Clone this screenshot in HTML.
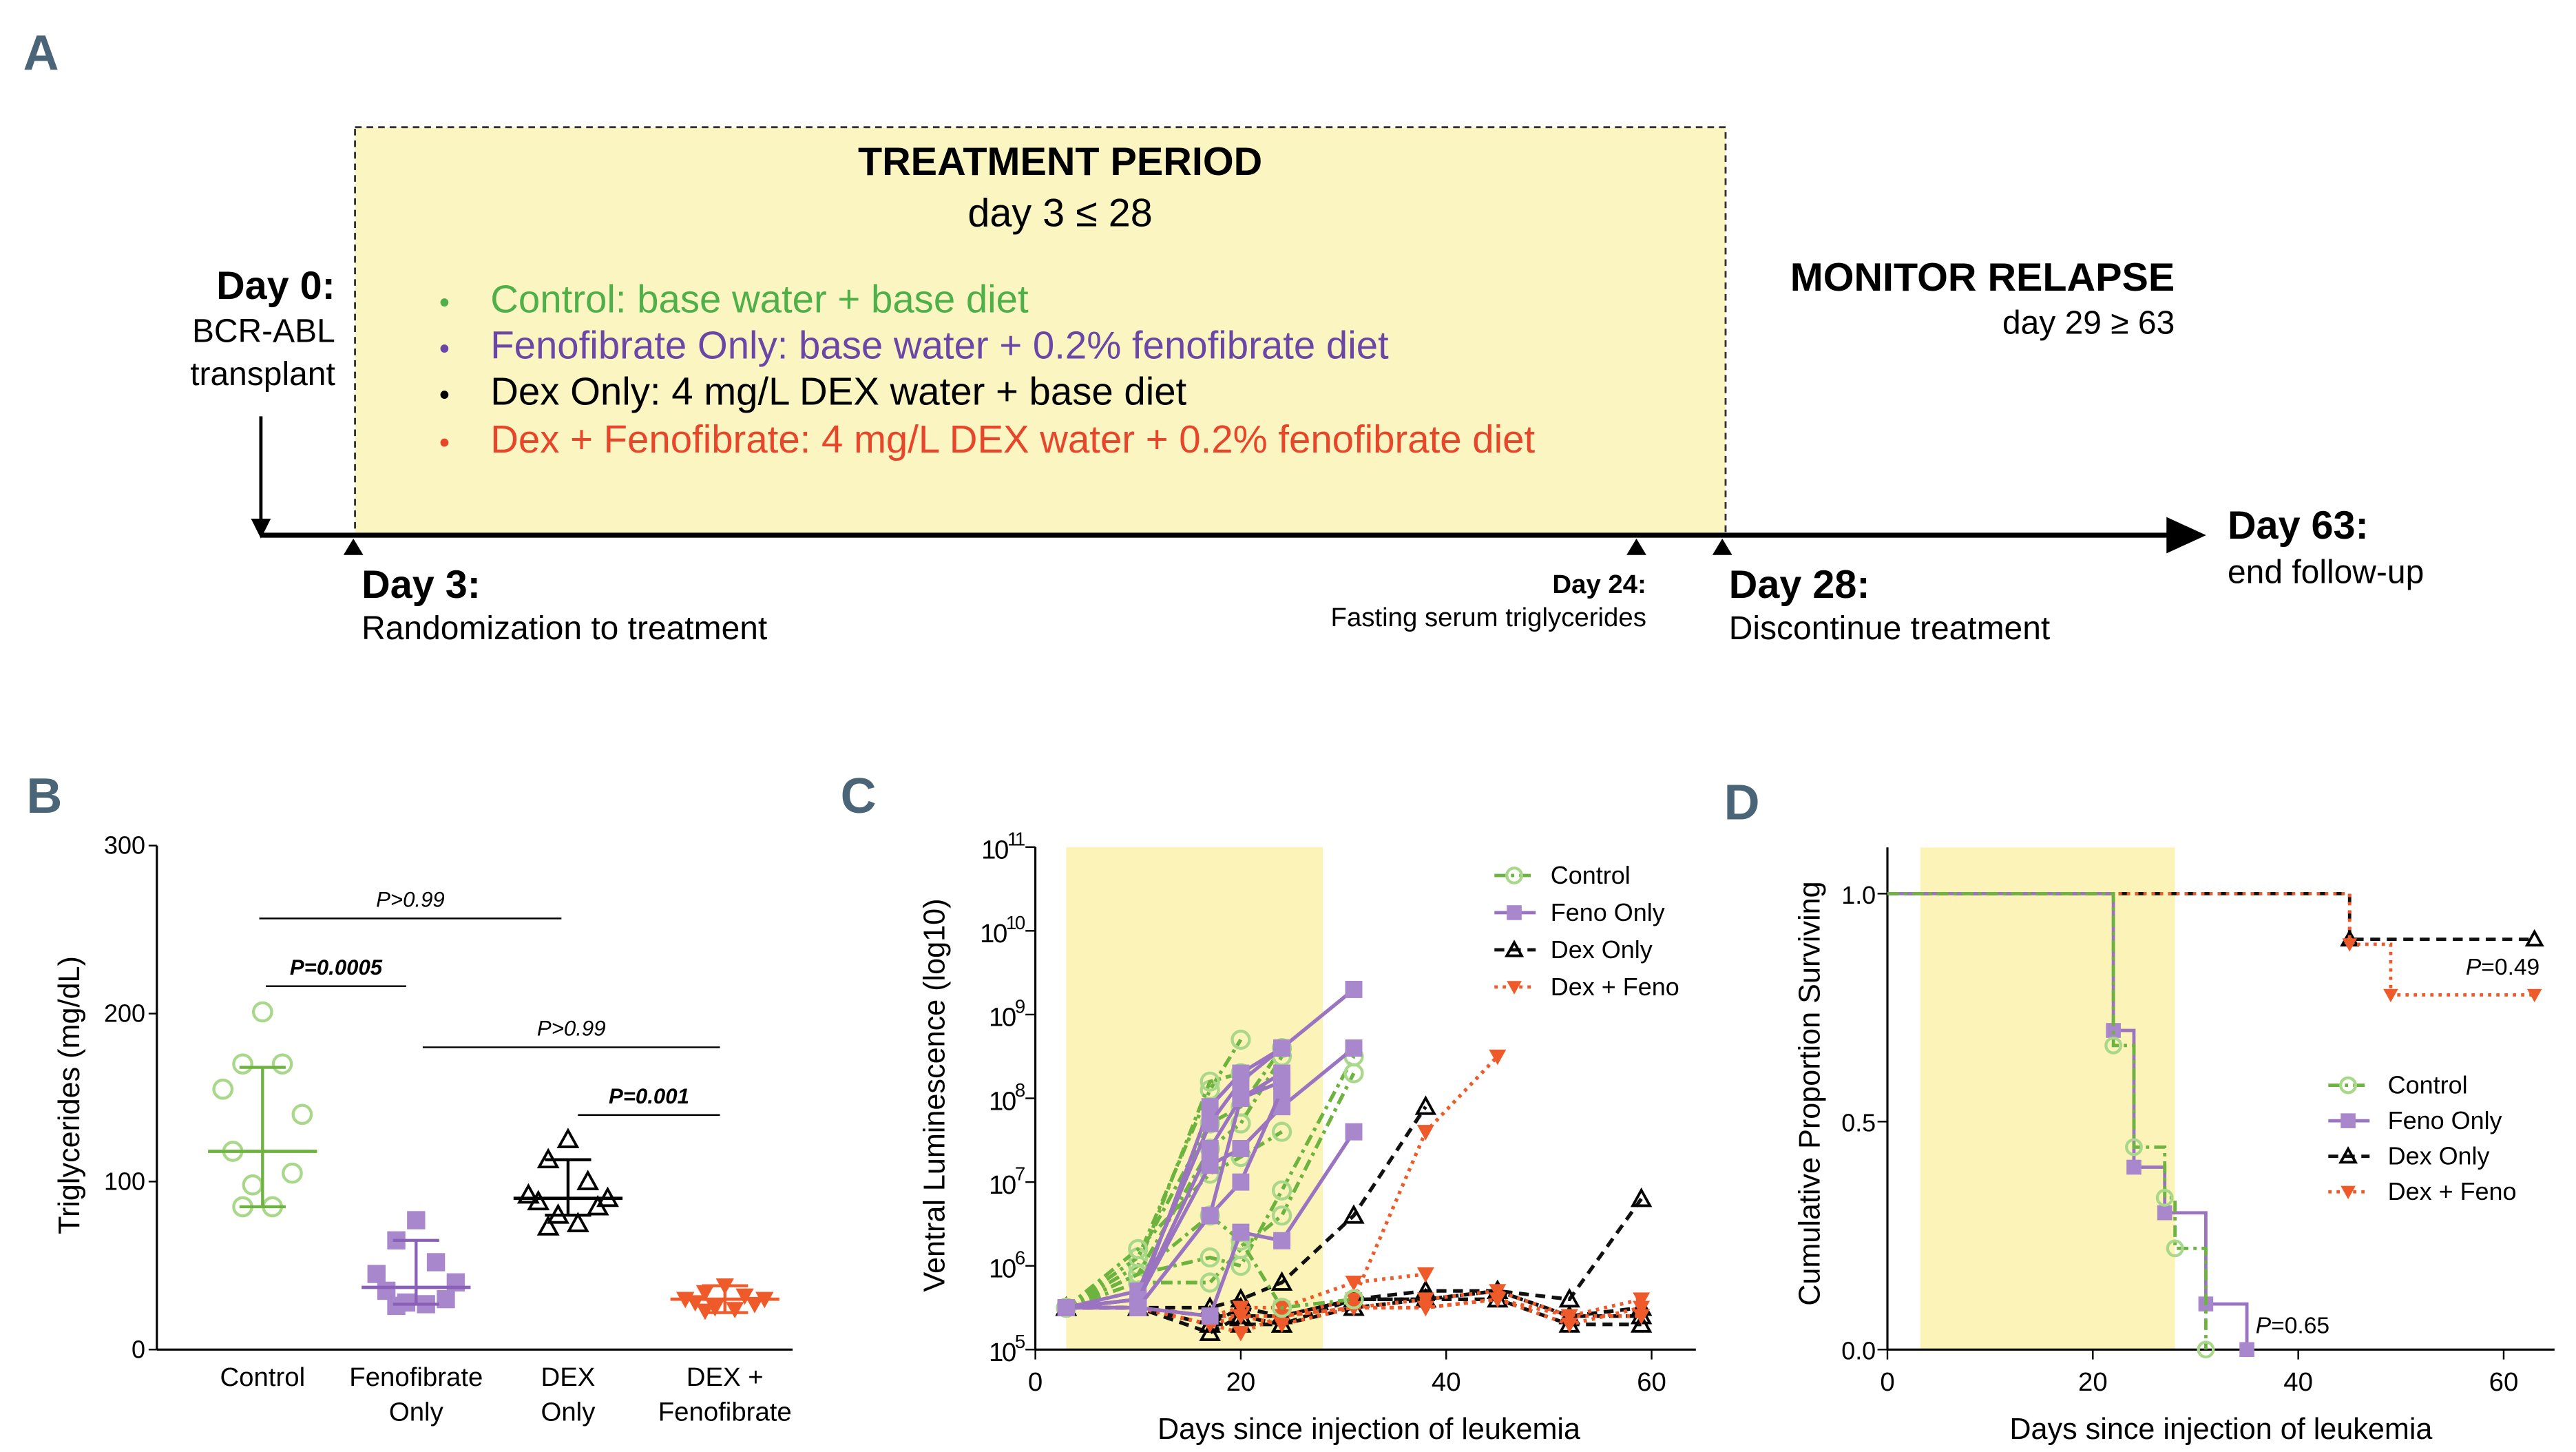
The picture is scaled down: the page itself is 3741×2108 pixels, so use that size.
<!DOCTYPE html>
<html><head><meta charset="utf-8">
<style>
html,body{margin:0;padding:0;background:#fff}
svg{display:block;font-family:"Liberation Sans",sans-serif}
</style></head>
<body>
<svg id="fig" width="3741" height="2108" viewBox="0 0 1560 879" xmlns="http://www.w3.org/2000/svg">
<g>
<text x="14" y="42" font-size="30" font-weight="bold" fill="#4a6478">A</text>
<rect x="215" y="77" width="830" height="247" fill="#fbf5c2" stroke="#333" stroke-dasharray="4,3" stroke-width="1.2"/>
<text x="642" y="106" font-size="24" font-weight="bold" text-anchor="middle">TREATMENT PERIOD</text>
<text x="642" y="137" font-size="24" text-anchor="middle">day 3 ≤ 28</text>
<g font-size="23.5">
<text x="266" y="189" fill="#4fb04a" font-size="18">•</text><text x="297" y="189" fill="#4fb04a">Control: base water + base diet</text>
<text x="266" y="217" fill="#6a46a6" font-size="18">•</text><text x="297" y="217" fill="#6a46a6">Fenofibrate Only: base water + 0.2% fenofibrate diet</text>
<text x="266" y="245" fill="#000" font-size="18">•</text><text x="297" y="245" fill="#000">Dex Only: 4 mg/L DEX water + base diet</text>
<text x="266" y="274" fill="#e8462a" font-size="18">•</text><text x="297" y="274" fill="#e8462a">Dex + Fenofibrate: 4 mg/L DEX water + 0.2% fenofibrate diet</text>
</g>
<text x="203" y="181" font-size="24" font-weight="bold" text-anchor="end">Day 0:</text>
<text x="203" y="207" font-size="20" text-anchor="end">BCR-ABL</text>
<text x="203" y="233" font-size="20" text-anchor="end">transplant</text>
<line x1="158" y1="252" x2="158" y2="316" stroke="#000" stroke-width="2"/>
<polygon points="152,314 164,314 158,326" fill="#000"/>
<line x1="158" y1="324" x2="1318" y2="324" stroke="#000" stroke-width="3"/>
<polygon points="1312,313 1336,324 1312,335" fill="#000"/>
<polygon points="208,336 220,336 214,326" fill="#000"/>
<polygon points="985,336 997,336 991,326" fill="#000"/>
<polygon points="1037,336 1049,336 1043,326" fill="#000"/>
<text x="219" y="362" font-size="24" font-weight="bold">Day 3:</text>
<text x="219" y="387" font-size="20">Randomization to treatment</text>
<text x="997" y="359" font-size="16" font-weight="bold" text-anchor="end">Day 24:</text>
<text x="997" y="379" font-size="16" text-anchor="end">Fasting serum triglycerides</text>
<text x="1047" y="362" font-size="24" font-weight="bold">Day 28:</text>
<text x="1047" y="387" font-size="20">Discontinue treatment</text>
<text x="1317" y="176" font-size="24" font-weight="bold" text-anchor="end">MONITOR RELAPSE</text>
<text x="1317" y="202" font-size="20" text-anchor="end">day 29 ≥ 63</text>
<text x="1349" y="326" font-size="24" font-weight="bold">Day 63:</text>
<text x="1349" y="353" font-size="20">end follow-up</text>
</g>
<text x="16" y="492" font-size="30" font-weight="bold" fill="#4a6478">B</text>
<text x="509" y="492" font-size="30" font-weight="bold" fill="#4a6478">C</text>
<text x="1044" y="496" font-size="30" font-weight="bold" fill="#4a6478">D</text>
<g id="pb"></g>
<g id="pc"></g>
<g id="pd"></g>
</svg>
<script>
// ---------- Panel B data ----------
const bCategories = ["Control","Fenofibrate Only","DEX Only","DEX + Fenofibrate"];
const bControl = [201,170,170,155,140,118,105,98,85,85];
const bFeno = [77,65,52,45,40,35,30,28,27,26];
const bDex = [125,113,100,92,90,88,85,80,75,73];
const bDexFeno = [38,34,32,30,30,28,27,25,24,23];
const bCenter = [118,37,90,30];
const bLow = [85,27,80,22];
const bHigh = [168,65,113,38];
const bTicks = [0,100,200,300];
// ---------- Panel C data (log10 luminescence) ----------
const cDays = [3,10,17,20,24,31,38,45,52,59];
const cControl = [
 [5.5,6.1,8.1,8.7],[5.5,6.0,8.2,8.3],[5.5,6.1,7.7,7.9,8.6],[5.5,5.9,7.4,7.7,8.5],
 [5.5,6.2,7.1,7.3,7.6],[5.5,5.9,6.1,6.0,6.9,8.5],[5.5,5.8,5.8,6.2,6.6,8.3],[5.5,5.9,6.6,6.3,5.5,5.6]];
const cFeno = [
 [5.5,5.6,7.9,8.3,8.6],[5.5,5.7,7.7,8.2,8.6,9.3],[5.5,5.6,7.4,8.0,8.3],[5.5,5.6,7.2,7.4,7.9,8.6],
 [5.5,5.5,6.6,7.0,8.1],[5.5,5.5,5.4,6.4,6.3,7.6],[5.5,5.5,6.6,8.0,8.2]];
const cDex = [
 [5.5,5.5,5.2,5.4,5.3,5.6,5.6,5.7,5.4,5.4],[5.5,5.5,5.5,5.6,5.8,6.6,7.9],
 [5.5,5.5,5.3,5.5,5.4,5.6,5.7,5.7,5.6,6.8],[5.5,5.5,5.3,5.3,5.3,5.5,5.6,5.6,5.3,5.3],
 [5.5,5.5,5.4,5.4,5.4,5.6,5.6,5.7,5.4,5.5]];
const cDexFeno = [
 [5.5,5.5,5.4,5.4,5.4,5.6,7.6,8.5],[5.5,5.5,5.4,5.5,5.5,5.8,5.9],
 [5.5,5.5,5.3,5.2,5.4,5.5,5.5,5.6,5.4,5.4],[5.5,5.5,5.4,5.4,5.4,5.5,5.6,5.7,5.4,5.6],
 [5.5,5.5,5.3,5.4,5.3,5.5,5.5,5.6,5.3,5.5]];
const cTicks = [5,6,7,8,9,10,11];
const cXTicks = [0,20,40,60];
// ---------- Panel D data (KM) ----------
const dControl = [[0,1],[22,0.667],[24,0.444],[27,0.333],[28,0.222],[31,0]];
const dFeno = [[0,1],[22,0.7],[24,0.4],[27,0.3],[31,0.1],[35,0]];
const dDex = [[0,1],[45,0.9],[63,0.9]];
const dDexFeno = [[0,1],[45,0.889],[49,0.778],[63,0.778]];
const dYTicks = [0,0.5,1.0];
const dXTicks = [0,20,40,60];

const NS="http://www.w3.org/2000/svg";
function mk(p,tag,attrs,txt){const e=document.createElementNS(NS,tag);for(const k in attrs)e.setAttribute(k,attrs[k]);if(txt!==undefined)e.textContent=txt;p.appendChild(e);return e;}
const GREEN="#6db33f",LGREEN="#a9d88a",PURPLE="#9a74c0",BLACK="#111",RED="#ee5a2a";
function marker(p,type,x,y,s){let e;
 if(type==="circle"){e=mk(p,"circle",{cx:x,cy:y,r:s,fill:"none",stroke:LGREEN,"stroke-width":1.8});}
 else if(type==="square"){e=mk(p,"rect",{x:x-s,y:y-s,width:2*s,height:2*s,fill:"#a987cc"});}
 else if(type==="tri"){e=mk(p,"polygon",{points:`${x-s},${y+s*0.8} ${x+s},${y+s*0.8} ${x},${y-s}`,fill:"none",stroke:"#000","stroke-width":1.6});}
 else {e=mk(p,"polygon",{points:`${x-s},${y-s*0.8} ${x+s},${y-s*0.8} ${x},${y+s}`,fill:RED});}
 
 
 return e;}

// ===== Panel B =====
(function(){
const g=document.getElementById("pb");
const X0=95,Y0=817,yS=v=>Y0-v*1.017;
const xs=[159,252,344,439];
const ax=mk(g,"line",{x1:X0,y1:yS(300),x2:X0,y2:Y0,stroke:"#000","stroke-width":1.3});

const xa=mk(g,"line",{x1:X0,y1:Y0,x2:480,y2:Y0,stroke:"#000","stroke-width":1.3});

bTicks.forEach(t=>{mk(g,"line",{x1:X0-5,y1:yS(t),x2:X0,y2:yS(t),stroke:"#000"});
 const tl=mk(g,"text",{x:X0-7,y:yS(t)+5,"font-size":15,"text-anchor":"end"},t);
 });
const yt=mk(g,"text",{x:0,y:0,"font-size":18,"text-anchor":"middle",transform:`translate(48,663) rotate(-90)`},"Triglycerides (mg/dL)");

bCategories.forEach((c,i)=>{const parts=c==="Control"?["Control"]:c==="Fenofibrate Only"?["Fenofibrate","Only"]:c==="DEX Only"?["DEX","Only"]:["DEX +","Fenofibrate"];
 parts.forEach((p,j)=>{const t=mk(g,"text",{x:xs[i],y:839+j*21,"font-size":16,"text-anchor":"middle"},p);
 });});
const series=[[bControl,"circle",GREEN],[bFeno,"square","#8a5fb8"],[bDex,"tri","#000"],[bDexFeno,"down",RED]];
series.forEach(([vals,type,col],i)=>{
 const off=[0,-1,1,-2,2,-1.5,1.5,-0.5,0.5,-1,1];
 vals.forEach((v,k)=>{marker(g,type,xs[i]+off[k%off.length]*12,yS(v),5.5);});
 mk(g,"line",{x1:xs[i],y1:yS(bLow[i]),x2:xs[i],y2:yS(bHigh[i]),stroke:col,"stroke-width":1.8});
 mk(g,"line",{x1:xs[i]-14,y1:yS(bLow[i]),x2:xs[i]+14,y2:yS(bLow[i]),stroke:col,"stroke-width":1.8});
 mk(g,"line",{x1:xs[i]-14,y1:yS(bHigh[i]),x2:xs[i]+14,y2:yS(bHigh[i]),stroke:col,"stroke-width":1.8});
 const m=mk(g,"line",{x1:xs[i]-33,y1:yS(bCenter[i]),x2:xs[i]+33,y2:yS(bCenter[i]),stroke:col,"stroke-width":2});
 });
const sig=[[157,340,556,"P>0.99",false],[161,246,597,"P=0.0005",true],[256,436,634,"P>0.99",false],[350,436,675,"P=0.001",true]];
sig.forEach(([a,b,y,t,bold])=>{mk(g,"line",{x1:a,y1:y,x2:b,y2:y,stroke:"#000","stroke-width":1});
 const s=mk(g,"text",{x:(a+b)/2,y:y-7,"font-size":13,"text-anchor":"middle","font-weight":bold?"bold":"normal","font-style":"italic"},t);
 });
})();

// ===== Panel C =====
(function(){
const g=document.getElementById("pc");
const xS=d=>627+d*6.22, yS=l=>817-(l-5)*50.7;
const sh=mk(g,"rect",{x:xS(3),y:yS(11),width:xS(28)-xS(3),height:yS(5)-yS(11),fill:"#fcf3b8"});

mk(g,"line",{x1:627,y1:yS(11),x2:627,y2:817,stroke:"#000","stroke-width":1.3});
mk(g,"line",{x1:627,y1:817,x2:1027,y2:817,stroke:"#000","stroke-width":1.3});
cTicks.forEach(t=>{mk(g,"line",{x1:621,y1:yS(t),x2:627,y2:yS(t),stroke:"#000"});
 const tl=mk(g,"text",{x:620,y:yS(t)+7,"font-size":16,"text-anchor":"end","letter-spacing":"-1"});
 
 mk(tl,"tspan",{},"10");mk(tl,"tspan",{dy:-8,"font-size":11.5},String(t));});
cXTicks.forEach(t=>{mk(g,"line",{x1:xS(t),y1:817,x2:xS(t),y2:823,stroke:"#000"});
 const tl=mk(g,"text",{x:xS(t),y:842,"font-size":16,"text-anchor":"middle"},t);
 });
const xt=mk(g,"text",{x:829,y:871,"font-size":18,"text-anchor":"middle"},"Days since injection of leukemia");

const yt=mk(g,"text",{x:0,y:0,"font-size":18,"text-anchor":"middle",transform:"translate(572,663) rotate(-90)"},"Ventral Luminescence (log10)");

const groups=[[cDex,BLACK,"6,4","tri"],[cDexFeno,RED,"2,3","down"],[cControl,GREEN,"7,3,2,3","circle"],[cFeno,PURPLE,"","square"]];
groups.forEach(([arr,col,dash,type])=>{arr.forEach(ser=>{
 const pts=ser.map((v,i)=>xS(cDays[i])+","+yS(v)).join(" ");
 const pl=mk(g,"polyline",{points:pts,fill:"none",stroke:col,"stroke-width":2.2,"stroke-dasharray":dash});
 
 ser.forEach((v,i)=>marker(g,type,xS(cDays[i]),yS(v),5.2));});});
const leg=[["Control",GREEN,"7,3,2,3","circle"],["Feno Only",PURPLE,"","square"],["Dex Only",BLACK,"6,4","tri"],["Dex + Feno",RED,"2,3","down"]];
leg.forEach(([n,col,dash,type],i)=>{const y=530+i*22.5;
 mk(g,"line",{x1:905,y1:y,x2:930,y2:y,stroke:col,"stroke-width":2,"stroke-dasharray":dash});
 marker(g,type,917,y,4.5);
 const t=mk(g,"text",{x:939,y:y+5,"font-size":15},n);
 });
})();

// ===== Panel D =====
(function(){
const g=document.getElementById("pd");
const xS=d=>1143+d*6.22, yS=v=>817-v*276;
const sh=mk(g,"rect",{x:xS(3.2),y:513,width:xS(28)-xS(3.2),height:304,fill:"#fcf3b8"});

mk(g,"line",{x1:1143,y1:513,x2:1143,y2:817,stroke:"#000","stroke-width":1.3});
mk(g,"line",{x1:1143,y1:817,x2:1547,y2:817,stroke:"#000","stroke-width":1.3});
dYTicks.forEach(t=>{mk(g,"line",{x1:1137,y1:yS(t),x2:1143,y2:yS(t),stroke:"#000"});
 const tl=mk(g,"text",{x:1136,y:yS(t)+6,"font-size":15,"text-anchor":"end"},t.toFixed(1));
 });
dXTicks.forEach(t=>{mk(g,"line",{x1:xS(t),y1:817,x2:xS(t),y2:823,stroke:"#000"});
 const tl=mk(g,"text",{x:xS(t),y:842,"font-size":16,"text-anchor":"middle"},t);
 });
const xt=mk(g,"text",{x:1345,y:871,"font-size":18,"text-anchor":"middle"},"Days since injection of leukemia");

const yt=mk(g,"text",{x:0,y:0,"font-size":18,"text-anchor":"middle",transform:"translate(1102,662) rotate(-90)"},"Cumulative Proportion Surviving");

const groups=[[dDex,BLACK,"6,4","tri"],[dDexFeno,RED,"2,3","down"],[dFeno,PURPLE,"","square"],[dControl,GREEN,"7,3,2,3","circle"]];
groups.forEach(([s,col,dash,type])=>{let d="M"+xS(s[0][0])+","+yS(s[0][1]);
 for(let i=1;i<s.length;i++){d+=" H"+xS(s[i][0])+" V"+yS(s[i][1]);}
 const p=mk(g,"path",{d:d,fill:"none",stroke:col,"stroke-width":2,"stroke-dasharray":dash});
 
 for(let i=1;i<s.length;i++)marker(g,type,xS(s[i][0]),yS(s[i][1]),4.5);});
const t1=mk(g,"text",{x:1538,y:590,"font-size":14,"text-anchor":"end"});

mk(t1,"tspan",{"font-style":"italic"},"P");mk(t1,"tspan",{},"=0.49");
const t2=mk(g,"text",{x:1366,y:807,"font-size":14});

mk(t2,"tspan",{"font-style":"italic"},"P");mk(t2,"tspan",{},"=0.65");
const leg=[["Control",GREEN,"7,3,2,3","circle"],["Feno Only",PURPLE,"","square"],["Dex Only",BLACK,"6,4","tri"],["Dex + Feno",RED,"2,3","down"]];
leg.forEach(([n,col,dash,type],i)=>{const y=657+i*21.5;
 mk(g,"line",{x1:1410,y1:y,x2:1435,y2:y,stroke:col,"stroke-width":2,"stroke-dasharray":dash});
 marker(g,type,1422,y,4.5);
 const t=mk(g,"text",{x:1446,y:y+5,"font-size":15},n);
 });
})();
</script>
</body></html>
